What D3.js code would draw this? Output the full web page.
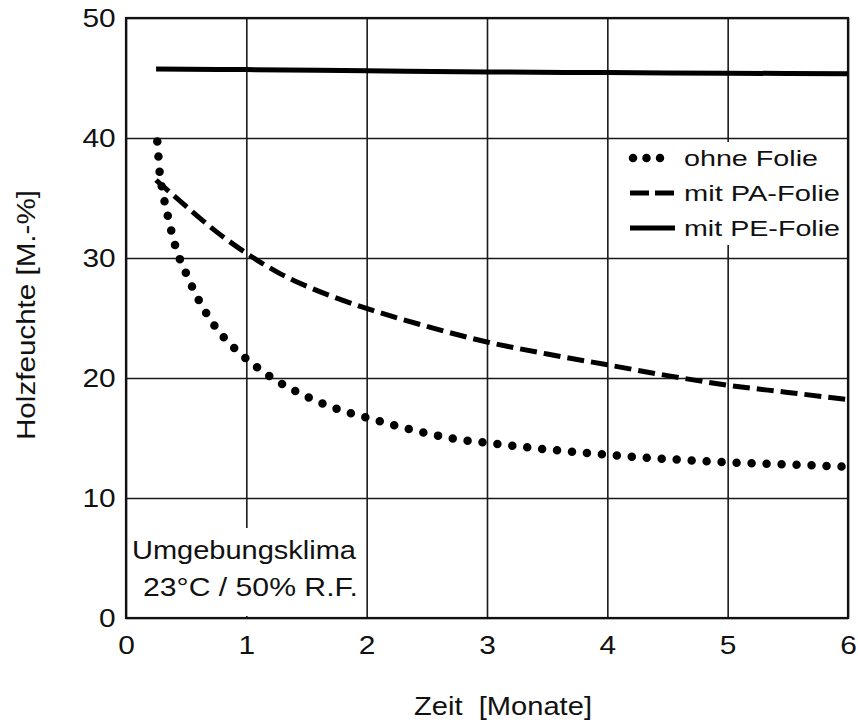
<!DOCTYPE html>
<html>
<head>
<meta charset="utf-8">
<script src="https://cdn.jsdelivr.net/npm/d3@7"></script>
<style>
  body { margin: 0; background: #fff; }
  text { font-family: "Liberation Sans", Arial, sans-serif; fill: #111; }
</style>
</head>
<body>
<div id="chart"></div>
<script>
// tick values
const monthTicks = [0, 1, 2, 3, 4, 5, 6];
const moistTicks = [0, 10, 20, 30, 40, 50];

// ohne Folie (dotted)
const ohneX = [0.26, 0.27, 0.28, 0.30, 0.35, 0.41, 0.50, 0.61, 0.74, 0.91, 1.0, 1.2, 1.43, 1.65, 1.89, 2.0, 2.25, 2.5, 2.75, 3.0, 3.5, 4.0, 4.5, 5.0, 5.5, 6.0];
const ohneY = [39.7, 38.4, 37.1, 35.8, 33.4, 31.0, 28.7, 26.4, 24.3, 22.4, 21.6, 20.1, 18.8, 17.8, 17.0, 16.7, 16.0, 15.4, 14.9, 14.6, 14.05, 13.6, 13.25, 12.97, 12.8, 12.6];

// mit PA-Folie (dashed)
const paX = [0.25, 0.5, 0.75, 1.0, 1.28, 1.61, 2.0, 2.5, 3.0, 3.5, 4.0, 4.5, 5.0, 5.5, 6.0];
const paY = [36.5, 34.3, 32.2, 30.4, 28.7, 27.2, 25.8, 24.3, 23.0, 22.0, 21.1, 20.2, 19.4, 18.8, 18.2];

// mit PE-Folie (solid)
const peX = [0.25, 1, 2, 3, 4, 5, 6];
const peY = [45.75, 45.7, 45.6, 45.5, 45.45, 45.4, 45.35];

const legendNames = ["ohne Folie", "mit PA-Folie", "mit PE-Folie"];

const svgWidth = 858;
const svgHeight = 722;
const margin = { top: 18, right: 10, bottom: 104, left: 126 };
const chartWidth = svgWidth - margin.left - margin.right;
const chartHeight = svgHeight - margin.top - margin.bottom;

const svg = d3.select("#chart").append("svg")
    .attr("width", svgWidth).attr("height", svgHeight);

const g = svg.append("g")
    .attr("transform", `translate(${margin.left},${margin.top})`);

const x = d3.scaleLinear().domain([0, 6]).range([0, chartWidth]);
const y = d3.scaleLinear().domain([0, 50]).range([chartHeight, 0]);

// grid + tick labels
const xAxis = g.append("g")
    .attr("transform", `translate(0,${chartHeight})`)
    .call(d3.axisBottom(x).tickValues(monthTicks).tickFormat(d3.format("d"))
        .tickSize(-chartHeight).tickPadding(18));
xAxis.select(".domain").remove();
xAxis.selectAll("line").attr("stroke", "#1a1a1a").attr("stroke-width", 1.6);
xAxis.selectAll("text").attr("font-size", 26).attr("fill", "#111")
    .attr("transform", "scale(1.15,1)");

const yAxis = g.append("g")
    .call(d3.axisLeft(y).tickValues(moistTicks).tickFormat(d3.format("d"))
        .tickSize(-chartWidth).tickPadding(9));
yAxis.select(".domain").remove();
yAxis.selectAll("line").attr("stroke", "#1a1a1a").attr("stroke-width", 1.6);
yAxis.selectAll("text").attr("font-size", 26).attr("fill", "#111")
    .attr("transform", "scale(1.15,1)");

// white boxes behind legend and annotation
g.append("rect").attr("x", 492).attr("y", 124).attr("width", 228).attr("height", 103).attr("fill", "#fff");
g.append("rect").attr("x", 2).attr("y", 510).attr("width", 236).attr("height", 88).attr("fill", "#fff");

// frame
g.append("rect").attr("width", chartWidth).attr("height", chartHeight)
    .attr("fill", "none").attr("stroke", "#111").attr("stroke-width", 2.2);

const line = d3.line()
    .x(d => x(d[0]))
    .y(d => y(d[1]))
    .curve(d3.curveMonotoneX);

g.append("path").datum(d3.zip(peX, peY))
    .attr("d", line).attr("fill", "none").attr("stroke", "#000")
    .attr("stroke-width", 5);

g.append("path").datum(d3.zip(paX, paY))
    .attr("d", line).attr("fill", "none").attr("stroke", "#000")
    .attr("stroke-width", 5).attr("stroke-dasharray", "17,7");

g.append("path").datum(d3.zip(ohneX, ohneY))
    .attr("d", line).attr("fill", "none").attr("stroke", "#000")
    .attr("stroke-width", 8.5).attr("stroke-linecap", "round")
    .attr("stroke-dasharray", "0,15");

// legend
const legendStyles = [
    { dash: "0,13.5", width: 8.5, cap: "round", x1: 633, x2: 661 },
    { dash: "19,6", width: 5, cap: "butt", x1: 630, x2: 674 },
    { dash: null, width: 5, cap: "butt", x1: 630, x2: 675 }
];
const legendWidths = [134, 156, 156];
const legend = svg.append("g");
legendNames.forEach((name, i) => {
    const cy = 158 + i * 35;
    const s = legendStyles[i];
    legend.append("line")
        .attr("x1", s.x1).attr("x2", s.x2).attr("y1", cy).attr("y2", cy)
        .attr("stroke", "#000").attr("stroke-width", s.width)
        .attr("stroke-linecap", s.cap).attr("stroke-dasharray", s.dash);
    legend.append("text")
        .attr("x", 684).attr("y", cy + 8)
        .attr("font-size", 22)
        .attr("textLength", legendWidths[i]).attr("lengthAdjust", "spacingAndGlyphs")
        .text(name);
});

// annotation
svg.append("text").attr("x", 132).attr("y", 559).attr("font-size", 26)
    .attr("textLength", 224).attr("lengthAdjust", "spacingAndGlyphs")
    .text("Umgebungsklima");
svg.append("text").attr("x", 143).attr("y", 596).attr("font-size", 26)
    .attr("textLength", 215).attr("lengthAdjust", "spacingAndGlyphs")
    .text("23°C / 50% R.F.");

// axis titles
svg.append("text").attr("x", 414).attr("y", 715).attr("font-size", 25)
    .attr("xml:space", "preserve").style("white-space", "pre")
    .attr("textLength", 178).attr("lengthAdjust", "spacingAndGlyphs")
    .text("Zeit  [Monate]");
svg.append("text")
    .attr("transform", "translate(35,315) rotate(-90)")
    .attr("text-anchor", "middle").attr("font-size", 26)
    .attr("textLength", 250).attr("lengthAdjust", "spacingAndGlyphs")
    .text("Holzfeuchte [M.-%]");
</script>
</body>
</html>
